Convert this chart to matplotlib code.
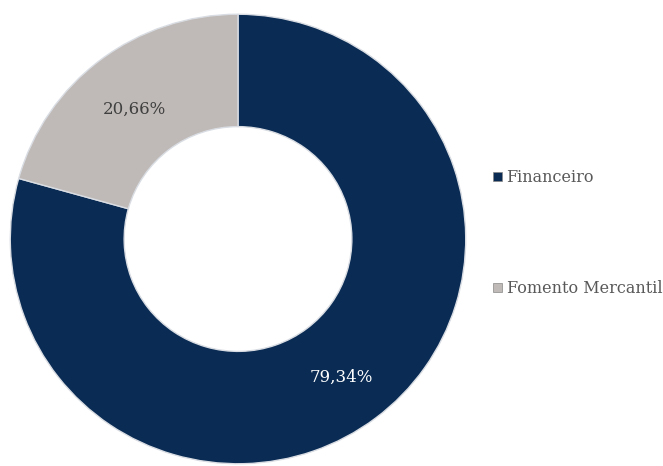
import matplotlib
matplotlib.use("Agg")
import matplotlib.pyplot as plt
from matplotlib.patches import Patch
import numpy as np

categories = ["Financeiro", "Fomento Mercantil"]
values = [79.34, 20.66]
labels = ["79,34%", "20,66%"]
colors = ["#0a2c54", "#bfbab7"]
text_colors = ["white", "#404040"]

plt.rcParams['font.family'] = ['DejaVu Serif']

fig = plt.figure(figsize=(6.63, 4.66), dpi=100)
ax = fig.add_axes([8/663, 0/466, 460/663, 454/466])
wedges, _ = ax.pie(values, colors=colors, startangle=90, counterclock=False,
                   radius=1.0, wedgeprops=dict(width=0.5, edgecolor="#d9dde3", linewidth=1.0))
for w, lab, tc in zip(wedges, labels, text_colors):
    ang = np.deg2rad((w.theta1 + w.theta2) / 2)
    ax.text(0.75*np.cos(ang), 0.75*np.sin(ang) - 0.02, lab, ha="center", va="center",
            color=tc, fontsize=12)
ax.set_xlim(-1.01, 1.01)
ax.set_ylim(-1.01, 1.01)
ax.set_aspect('auto')
ax.axis('off')

handles = [Patch(facecolor=c, edgecolor="#888888", linewidth=0.5) for c in colors]
fig.legend(handles, categories, loc="upper left", bbox_to_anchor=(493/663, 1 - 169/466),
           frameon=False, handlelength=0.55, handleheight=0.55, handletextpad=0.3,
           labelspacing=5.9, fontsize=11.5, labelcolor="#595959", borderpad=0, borderaxespad=0)
fig.savefig("out.png", dpi=100)
